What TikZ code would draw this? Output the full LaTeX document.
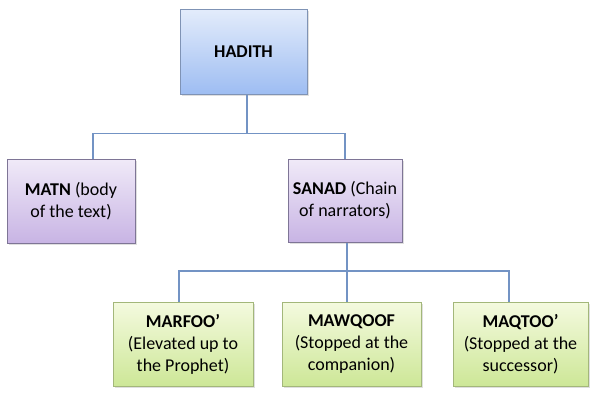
\documentclass[tikz,border=0pt]{standalone}
\usepackage{fontspec}
\setmainfont{Carlito}
\usetikzlibrary{shadows}
\definecolor{linkblue}{HTML}{7393C4}
\definecolor{hadtop}{HTML}{E3ECFB}
\definecolor{hadbot}{HTML}{9EBDF2}
\definecolor{hadline}{HTML}{7F93B5}
\definecolor{lavtop}{HTML}{F0EAF8}
\definecolor{lavbot}{HTML}{C8B4E4}
\definecolor{lavline}{HTML}{7E7596}
\definecolor{grntop}{HTML}{F4FADF}
\definecolor{grnbot}{HTML}{CDE797}
\definecolor{grnline}{HTML}{A3B77A}
\begin{document}
\begin{tikzpicture}[x=1pt,y=-1pt,
	box/.style={draw,line width=1pt,align=center,inner sep=2pt,
		font=\fontsize{18}{22}\selectfont,
		drop shadow={opacity=.25,shadow xshift=1.5pt,shadow yshift=-1.5pt}},
	topbox/.style={box,draw=hadline,top color=hadtop,bottom color=hadbot},
	midbox/.style={box,draw=lavline,top color=lavtop,bottom color=lavbot},
	lowbox/.style={box,draw=grnline,top color=grntop,bottom color=grnbot},
	link/.style={draw=linkblue,line width=1.2pt}]
		\useasboundingbox (0,0) rectangle (591,392);
		% boxes
		\node[topbox,minimum width=127pt,minimum height=85pt] (hadith) at (243.5,51.5) {\textbf{HADITH}};
		\node[midbox,minimum width=128pt,minimum height=84pt] (matn) at (71,201) {\textbf{MATN} (body\\of the text)};
		\node[midbox,minimum width=114pt,minimum height=83pt] (sanad) at (345,200.5) {\textbf{SANAD} (Chain\\of narrators)};
		\node[lowbox,minimum width=140pt,minimum height=84pt] (marfoo) at (183,344) {\textbf{MARFOO’}\\(Elevated up to\\the Prophet)};
		\node[lowbox,minimum width=139pt,minimum height=84pt] (mawqoof) at (351.5,344) {\textbf{MAWQOOF}\\(Stopped at the\\companion)};
		\node[lowbox,minimum width=135pt,minimum height=84pt] (maqtoo) at (520.5,344) {\textbf{MAQTOO’}\\(Stopped at the\\successor)};
		% connectors
		\draw[link] ([xshift=3.5pt]hadith.south) -- ++(0,39) coordinate (fork1);
		\draw[link] (fork1) -| ([xshift=22pt]matn.north);
		\draw[link] (fork1) -| (sanad.north);
		\draw[link] ([xshift=2pt]sanad.south) -- ++(0,28.5) coordinate (fork2);
		\draw[link] (fork2) -| ([xshift=-4pt]marfoo.north);
		\draw[link] (fork2) -| ([xshift=-11.5pt]maqtoo.north);
		\draw[link] (fork2) -- (fork2 |- mawqoof.north);
	\end{tikzpicture}
\end{document}
